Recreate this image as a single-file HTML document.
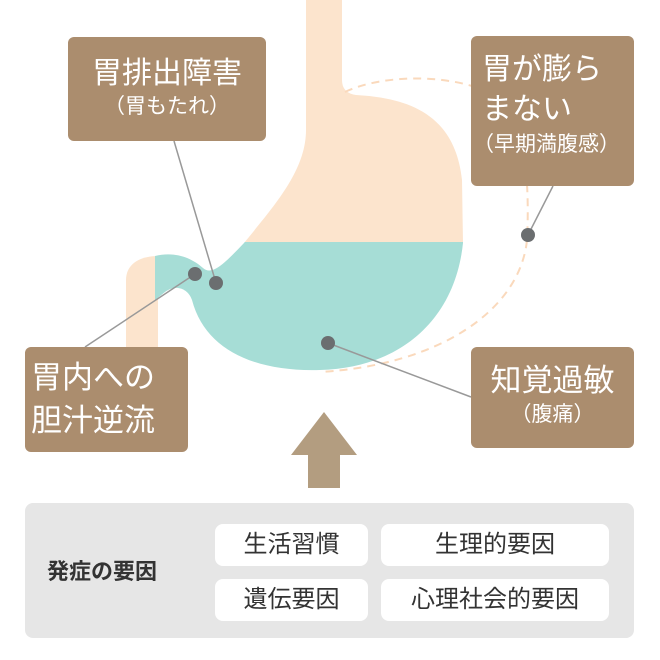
<!DOCTYPE html>
<html><head><meta charset="utf-8"><style>
body{margin:0;width:660px;height:660px;background:#fff;overflow:hidden;position:relative;font-family:"Liberation Sans","Noto Sans CJK JP",sans-serif}
.b{position:absolute;background:#AB8D6E;border-radius:6px;color:#fff}
.pill{position:absolute;background:#fff;border-radius:8px;font-size:24px;color:#333;text-align:center;line-height:42px;height:42px}
</style></head><body>
<svg width="660" height="660" style="position:absolute;left:0;top:0">
<defs><clipPath id="top"><rect x="0" y="0" width="660" height="242"/></clipPath>
<clipPath id="bot"><rect x="0" y="242" width="660" height="420"/></clipPath></defs>
<path d="M126,350 L126,280 C126,264 140,256 158,256 L158,350 Z" fill="#FCE4CD"/>
<path d="M306,0 L342,0 L342,80 Q342,93 356,95 C410,98 455,115 462,180 L463,243 C455,320 400,368 320,370 C255,372 205,350 192,300 C188,288 175,284 165,292 L155,300 L155,256 C175,251 192,258 203,268 C212,276 224,264 244,243 C275,205 306,170 306,130 Z" fill="#FCE4CD" clip-path="url(#top)"/>
<path d="M306,0 L342,0 L342,80 Q342,93 356,95 C410,98 455,115 462,180 L463,243 C455,320 400,368 320,370 C255,372 205,350 192,300 C188,288 175,284 165,292 L155,300 L155,256 C175,251 192,258 203,268 C212,276 224,264 244,243 C275,205 306,170 306,130 Z" fill="#A6DDD6" clip-path="url(#bot)"/>
<path d="M345,92 C380,75 450,72 495,95 C525,115 530,180 527,240 C520,310 440,365 320,372" fill="none" stroke="#FAD9BC" stroke-width="2" stroke-dasharray="8,6"/>
<g stroke="#999" stroke-width="1.5">
<line x1="174" y1="141" x2="216" y2="283"/>
<line x1="85" y1="347" x2="195" y2="274"/>
<line x1="553" y1="186" x2="528" y2="235"/>
<line x1="328" y1="343" x2="471" y2="397"/>
</g>
<g fill="#6b6e70"><circle cx="195" cy="274" r="7"/><circle cx="216" cy="283" r="7"/><circle cx="328" cy="343" r="7"/><circle cx="528" cy="235" r="7"/></g>
<path d="M324,412 L357,455 L340,455 L340,488 L308,488 L308,455 L291,455 Z" fill="#B39D80"/>
</svg>
<div class="b" style="left:68px;top:37px;width:198px;height:104px;text-align:center">
<div style="font-size:30px;margin-top:18px;line-height:38px">胃排出障害</div>
<div style="font-size:21px;line-height:28px">（胃もたれ）</div></div>
<div class="b" style="left:471px;top:36px;width:163px;height:150px">
<div style="font-size:30px;line-height:40px;margin:14px 0 0 11px">胃が膨ら<br>まない</div>
<div style="font-size:21px;line-height:30px;margin-left:2px">（早期満腹感）</div></div>
<div class="b" style="left:25px;top:347px;width:163px;height:105px">
<div style="font-size:31px;line-height:43px;margin:9px 0 0 6px">胃内への<br>胆汁逆流</div></div>
<div class="b" style="left:471px;top:347px;width:163px;height:101px;text-align:center">
<div style="font-size:31px;line-height:40px;margin-top:14px">知覚過敏</div>
<div style="font-size:21px;line-height:28px">（腹痛）</div></div>
<div style="position:absolute;left:25px;top:503px;width:609px;height:135px;background:#E6E6E6;border-radius:8px"></div>
<div style="position:absolute;left:47px;top:557px;font-size:22px;font-weight:bold;color:#333;line-height:30px">発症の要因</div>
<div class="pill" style="left:215px;top:524px;width:153px">生活習慣</div>
<div class="pill" style="left:381px;top:524px;width:228px">生理的要因</div>
<div class="pill" style="left:215px;top:579px;width:153px">遺伝要因</div>
<div class="pill" style="left:381px;top:579px;width:228px">心理社会的要因</div>
</body></html>
